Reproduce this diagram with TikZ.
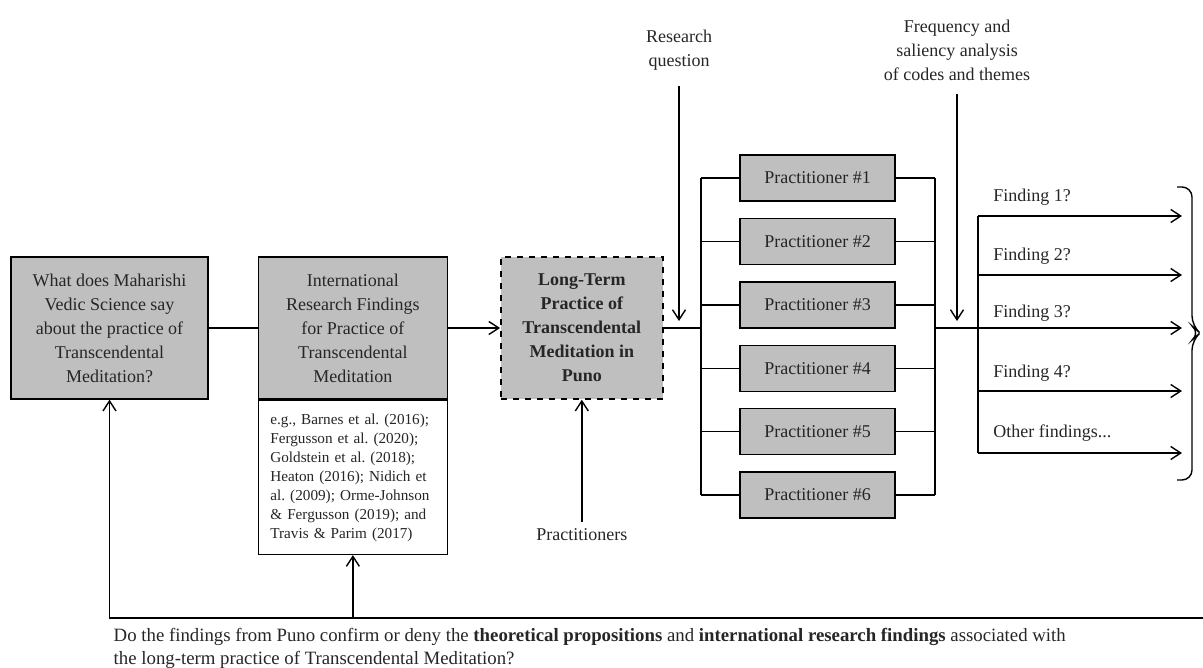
\documentclass[tikz,border=0pt]{standalone}
\usepackage{fontspec}
\setmainfont{Liberation Serif}
\usepackage{tikz}
\usetikzlibrary{positioning, arrows.meta}
\tikzstyle{every node}=[font=\fontsize{9}{12}\selectfont, text=black!85]
\tikzstyle{greyblock}=[draw, fill=black!25, rectangle, align=center, minimum height=71pt]
\tikzstyle{refblock}=[draw, fill=white, rectangle, align=left, text width=82.5pt, inner xsep=6pt, minimum height=77pt, font=\fontsize{7.6}{9.5}\selectfont]
\tikzstyle{pblock}=[draw, fill=black!25, rectangle, minimum width=77.5pt, minimum height=23pt]

\begin{document}
\begin{tikzpicture}[>={Straight Barb[length=5pt,width=6.5pt]}, x=0.5pt, y=-0.5pt, line width=0.7pt]
            \useasboundingbox (0,0) rectangle (1203,668);
            \node[greyblock, minimum width=98.5pt] (vedic) at (109.5,328) {What does Maharishi\\Vedic Science say\\about the practice of\\Transcendental\\Meditation?};
            \node[greyblock, minimum width=94.5pt, right=24.5pt of vedic] (Ifindings) {International\\Research Findings\\for Practice of\\Transcendental\\Meditation};
            \node[refblock, anchor=north] (Irefs) at (Ifindings.south) {e.g., Barnes et al.\ (2016);\\Fergusson et al.\ (2020);\\Goldstein et al.\ (2018);\\Heaton (2016); Nidich et\\al.\ (2009); Orme-Johnson\\\& Fergusson (2019); and\\Travis \& Parim (2017)};
            \node[greyblock, dashed, minimum width=81pt, right=26pt of Ifindings, font=\fontsize{9}{12}\selectfont\bfseries] (puno) {Long-Term\\Practice of\\Transcendental\\Meditation in\\Puno};
            \node[below=61pt of puno] (practs) {Practitioners};
            \node[align=center] (rq) at (679,50) {Research\\question};
            \node[align=center] (freq) at (957,50) {Frequency and\\saliency analysis\\of codes and themes};
            \node[pblock] (p1) at (817.5,178) {Practitioner \#1};
            \node[pblock, below=8pt of p1] (p2) {Practitioner \#2};
            \node[pblock, below=8pt of p2] (p3) {Practitioner \#3};
            \node[pblock, below=8pt of p3] (p4) {Practitioner \#4};
            \node[pblock, below=8pt of p4] (p5) {Practitioner \#5};
            \node[pblock, below=8pt of p5] (p6) {Practitioner \#6};
            \coordinate (busL) at (701,328);
            \coordinate (busR) at (935,328);
            \coordinate (fbus) at (978,328);
            \coordinate (rqend) at (679,321);
            \coordinate (freqend) at (957,321);
            \coordinate (e1) at (1182,216);
            \coordinate (e2) at (1182,275);
            \coordinate (e3) at (1182,328);
            \coordinate (e4) at (1182,391);
            \coordinate (e5) at (1182,453);
            \node[anchor=west] (f1) at (986,197) {Finding 1?};
            \node[anchor=west] (f2) at (986,256) {Finding 2?};
            \node[anchor=west] (f3) at (986,313) {Finding 3?};
            \node[anchor=west] (f4) at (986,373) {Finding 4?};
            \node[anchor=west] (f5) at (986,433) {Other findings...};
            \coordinate (fbR) at (1203,618);
            \node[anchor=north west, inner sep=0pt, align=left, font=\fontsize{9.4}{11.5}\selectfont] (question) at (113,628) {Do the findings from Puno confirm or deny the \textbf{theoretical propositions} and \textbf{international research findings} associated with\\the long-term practice of Transcendental Meditation?};
            \draw (vedic) -- (Ifindings);
            \draw[->] (Ifindings) -- (puno);
            \draw (puno) -- (busL);
            \draw[->] (practs) -- (puno);
            \draw[->, shorten <=4pt] (rq) -- (rqend);
            \draw[->, shorten <=3pt] (freq) -- (freqend);
            \draw (busL |- p1) -- (busL |- p6);
            \draw (busL |- p1) -- (p1);
            \draw (busL |- p2) -- (p2);
            \draw (busL |- p3) -- (p3);
            \draw (busL |- p4) -- (p4);
            \draw (busL |- p5) -- (p5);
            \draw (busL |- p6) -- (p6);
            \draw (p1) -- (busR |- p1);
            \draw (p2) -- (busR |- p2);
            \draw (p3) -- (busR |- p3);
            \draw (p4) -- (busR |- p4);
            \draw (p5) -- (busR |- p5);
            \draw (p6) -- (busR |- p6);
            \draw (busR |- p1) -- (busR |- p6);
            \draw[->] (busR) -- (e3);
            \draw (fbus |- e1) -- (fbus |- e5);
            \draw[->] (fbus |- e1) -- (e1);
            \draw[->] (fbus |- e2) -- (e2);
            \draw[->] (fbus |- e4) -- (e4);
            \draw[->] (fbus |- e5) -- (e5);
            \draw[rounded corners=5pt] (1177,187) -- (1192,187) -- (1192,326) -- (1200,333) -- (1192,340) -- (1192,480) -- (1177,480);
            \draw[->] (fbR) -| (vedic);
            \draw[->] (Irefs |- fbR) -- (Irefs);
        \end{tikzpicture}
\end{document}
